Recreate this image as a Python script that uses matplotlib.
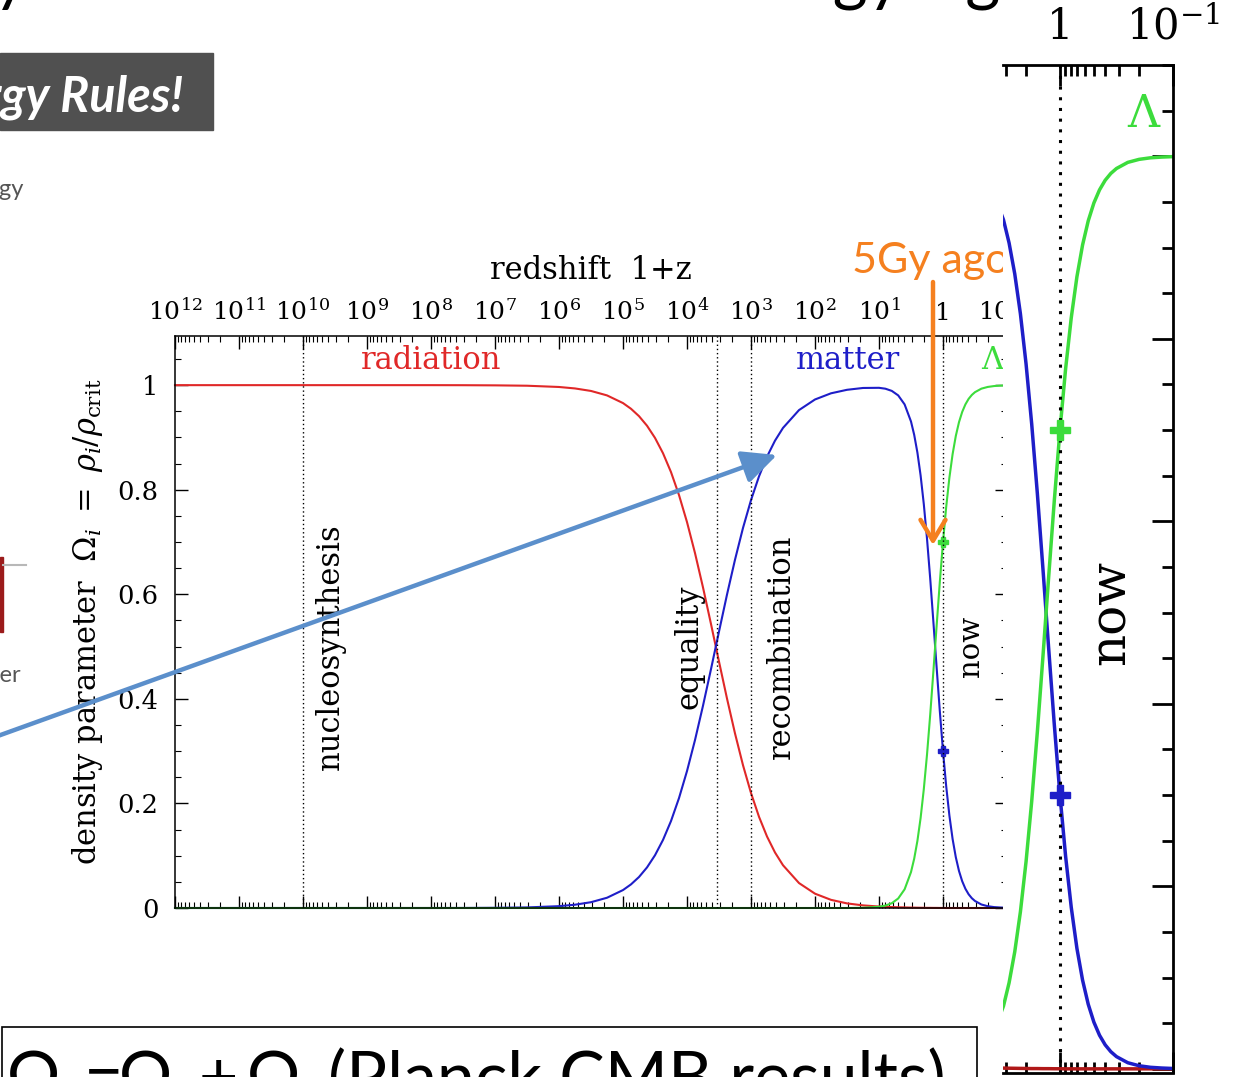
import numpy as np
import matplotlib
matplotlib.use('Agg')
import matplotlib.pyplot as plt
from matplotlib.patches import Rectangle
from matplotlib.lines import Line2D
from matplotlib.ticker import (FixedLocator, FixedFormatter, LogLocator,
                               MultipleLocator, FuncFormatter, NullFormatter)

plt.rcParams['font.family'] = ['DejaVu Serif']
plt.rcParams['mathtext.fontset'] = 'dejavuserif'

W, H = 1234, 1077

# log10(1+z), from the early universe down to the future
log_one_plus_z = [12, 9, 8, 7.5, 7, 6.5, 6, 5.75, 5.5, 5.25, 5, 4.875, 4.75, 4.625,
                  4.5, 4.375, 4.25, 4.125, 4, 3.875, 3.75, 3.625, 3.5, 3.375, 3.25,
                  3.125, 3, 2.875, 2.75, 2.625, 2.5, 2.25, 2, 1.75, 1.5, 1.25, 1.0,
                  0.9, 0.8, 0.7, 0.6, 0.5, 0.45, 0.4, 0.35, 0.3, 0.25, 0.2, 0.15,
                  0.1, 0.05, 0, -0.05, -0.1, -0.15, -0.2, -0.25, -0.3, -0.35, -0.4,
                  -0.45, -0.5, -0.6, -0.7, -0.8, -0.9, -1.0]

omega_radiation = [1.0, 1.0, 1.0, 0.9999, 0.9996, 0.9989, 0.9965, 0.9937, 0.9889,
                   0.9804, 0.9657, 0.9548, 0.9407, 0.9224, 0.8991, 0.8698, 0.8337,
                   0.7898, 0.7381, 0.6788, 0.6131, 0.5431, 0.4713, 0.4006, 0.3339,
                   0.2731, 0.2199, 0.1745, 0.1368, 0.1062, 0.0818, 0.0477, 0.0274,
                   0.0156, 0.0088, 0.0050, 0.0028, 0.0022, 0.0018, 0.0014, 0.0011,
                   0.0008, 0.0007, 0.0006, 0.0005, 0.0004, 0.0003, 0.0003, 0.0002,
                   0.0002, 0.0001, 0.0001, 0, 0, 0, 0, 0, 0, 0, 0, 0, 0, 0, 0, 0, 0, 0]

omega_matter = [0, 0, 0, 0.0001, 0.0004, 0.0011, 0.0035, 0.0063, 0.0111, 0.0196,
                0.0343, 0.0452, 0.0593, 0.0776, 0.1009, 0.1302, 0.1663, 0.2102,
                0.2619, 0.3212, 0.3869, 0.4569, 0.5287, 0.5994, 0.6661, 0.7269,
                0.7801, 0.8255, 0.8632, 0.8938, 0.9182, 0.9523, 0.9726, 0.9844,
                0.9911, 0.9946, 0.9949, 0.9932, 0.9890, 0.9804, 0.9632, 0.9305,
                0.9049, 0.8711, 0.8274, 0.7725, 0.7065, 0.6303, 0.5469, 0.4608,
                0.3770, 0.3000, 0.2328, 0.1768, 0.1320, 0.0972, 0.0708, 0.0512,
                0.0368, 0.0263, 0.0188, 0.0134, 0.0067, 0.0034, 0.0017, 0.0009,
                0.0004]

omega_lambda = [0, 0, 0, 0, 0, 0, 0, 0, 0, 0, 0, 0, 0, 0, 0, 0, 0, 0, 0, 0, 0, 0,
                0, 0, 0, 0, 0, 0, 0, 0, 0, 0, 0, 0, 0, 0.0004, 0.0023, 0.0046,
                0.0092, 0.0182, 0.0357, 0.0687, 0.0944, 0.1283, 0.1721, 0.2271,
                0.2932, 0.3694, 0.4529, 0.5390, 0.6229, 0.7000, 0.7672, 0.8232,
                0.8680, 0.9028, 0.9292, 0.9488, 0.9632, 0.9737, 0.9812, 0.9866,
                0.9933, 0.9966, 0.9983, 0.9991, 0.9996]

# present-day values (1+z = 1)
omega_matter_now = 0.3
omega_lambda_now = 0.7

event_one_plus_z = [1e10, 3400, 1000, 1]
event_names = ['nucleosynthesis', 'equality', 'recombination', 'now']

y_ticks = [0, 0.2, 0.4, 0.6, 0.8, 1.0]
y_tick_labels = ['0', '0.2', '0.4', '0.6', '0.8', '1']

# budget line in the box under the chart: (text, left x in px)
budget_parts = [('Ω', 5), ('=', 84), ('Ω', 117), ('+', 199), ('Ω', 245),
                ('(Planck CMB results)', 328)]
budget_subscripts = [('0', 50), ('m', 160), ('Λ', 288)]

RED = '#e02828'
BLUE = '#1e1ec8'
GREEN = '#3cdc3c'
ORANGE = '#f5801f'
ARROW_BLUE = '#5b8fcb'
SANS = ['Lato', 'DejaVu Sans']


def fx(px):
    return px / W


def fy(py):
    return 1 - py / H


def decade_label(value, pos):
    exponent = int(round(np.log10(value)))
    return '1' if exponent == 0 else rf'$10^{{{exponent}}}$'


z1 = 10.0 ** np.array(log_one_plus_z)

fig = plt.figure(figsize=(W / 100, H / 100), dpi=100)

# slide background bits
fig.text(fx(-190), fy(-2), 'History of the Universe: Dark Energy Age', family=SANS,
         fontsize=48.5, va='baseline', ha='left', color='black')
fig.patches.append(Rectangle((0, fy(130)), fx(213), (130 - 53) / H,
                             transform=fig.transFigure, color='#505050'))
fig.text(fx(183), fy(112), 'Dark Energy Rules!', family=SANS, weight='bold',
         style='italic', fontsize=35, color='white', ha='right', va='baseline')
fig.text(fx(24), fy(190), 'Energy', family=SANS, fontsize=17, color='#555555',
         ha='right', va='center')
fig.text(fx(22), fy(675), 'Matter', family=SANS, fontsize=17, color='#555555',
         ha='right', va='center')
fig.patches.append(Rectangle((0, fy(632)), fx(3), 75 / H,
                             transform=fig.transFigure, color='#9b1b1b'))
fig.lines.append(Line2D([fx(3), fx(26)], [fy(565), fy(565)],
                        transform=fig.transFigure, color='#b8b8b8', lw=1.5))
fig.patches.append(Rectangle((fx(2), fy(1100)), fx(975), (1100 - 1027) / H,
                             transform=fig.transFigure, facecolor='white',
                             edgecolor='black', lw=1.2))
for part, left in budget_parts:
    fig.text(fx(left), fy(1100), part, family=SANS, fontsize=49, va='baseline',
             ha='left')
for part, left in budget_subscripts:
    fig.text(fx(left), fy(1112), part, family=SANS, fontsize=32, va='baseline',
             ha='left')

# main chart
ax = fig.add_axes([fx(175), fy(908), (1007 - 175) / W, (908 - 336) / H])
ax.set_xscale('log')
ax.set_xlim(1e12, 0.1)
ax.set_ylim(0, 1.094)

ax.plot(z1, omega_radiation, color=RED, lw=1.5, clip_on=False)
ax.plot(z1, omega_matter, color=BLUE, lw=1.5, clip_on=False)
ax.plot(z1, omega_lambda, color=GREEN, lw=1.5, clip_on=False)
ax.plot([1], [omega_matter_now], marker='P', ms=7, color=BLUE)
ax.plot([1], [omega_lambda_now], marker='P', ms=7, color=GREEN)

offsets = [20, -20, 22, 20]
for z_event, name, dx in zip(event_one_plus_z, event_names, offsets):
    ax.axvline(z_event, color='black', ls=(0, (1, 2)), lw=1.0)
    size = 21 if name == 'now' else 22
    ax.annotate(name, xy=(z_event, 0.5), xytext=(dx, 0), textcoords='offset points',
                rotation=90, ha='center', va='center', fontsize=size)

ax.text(1e8, 1.048, 'radiation', color=RED, fontsize=22, ha='center', va='center')
ax.text(30, 1.048, 'matter', color=BLUE, fontsize=22, ha='center', va='center')
ax.text(10 ** -0.78, 1.048, r'$\Lambda$', color=GREEN, fontsize=22, ha='center',
        va='center')

ax.xaxis.set_major_locator(FixedLocator(10.0 ** np.arange(-1, 13)))
ax.xaxis.set_minor_locator(LogLocator(base=10, subs=np.arange(2, 10), numticks=200))
ax.xaxis.set_major_formatter(FuncFormatter(decade_label))
ax.xaxis.set_minor_formatter(NullFormatter())
ax.yaxis.set_major_locator(FixedLocator(y_ticks))
ax.yaxis.set_major_formatter(FixedFormatter(y_tick_labels))
ax.yaxis.set_minor_locator(MultipleLocator(0.05))
ax.tick_params(axis='x', which='both', direction='in', top=True, bottom=True,
               labeltop=True, labelbottom=False, labelsize=18, pad=8)
ax.tick_params(axis='y', which='both', direction='in', left=True, right=True,
               labelsize=18.5, pad=12)
ax.tick_params(which='major', length=9, width=1)
ax.tick_params(which='minor', length=4, width=0.8)
for spine in ax.spines.values():
    spine.set_linewidth(1.1)

ax.xaxis.set_label_position('top')
ax.set_xlabel('redshift  1+z', fontsize=22, labelpad=14)
ax.set_ylabel(r'density parameter  $\Omega_i\ =\ \rho_i/\rho_{\rm crit}$', fontsize=22,
              labelpad=9)

# annotations over the chart
ax.text(fx(852), fy(273), '5Gy ago', transform=fig.transFigure, family=SANS,
        fontsize=31, color=ORANGE, ha='left', va='baseline')
ax.annotate('', xy=(fx(933), fy(545)), xytext=(fx(933), fy(282)),
            xycoords='figure fraction', textcoords='figure fraction',
            arrowprops=dict(arrowstyle='->, head_length=0.75, head_width=0.45',
                            mutation_scale=20, color=ORANGE, lw=3.2,
                            shrinkA=0, shrinkB=0))
ax.annotate('', xy=(fx(777), fy(455)), xytext=(fx(-5), fy(737)),
            xycoords='figure fraction', textcoords='figure fraction',
            arrowprops=dict(arrowstyle='-|>, head_length=1.05, head_width=0.5',
                            mutation_scale=20, color=ARROW_BLUE, lw=3.2,
                            shrinkA=0, shrinkB=0))

# zoom around today
ins = fig.add_axes([fx(1003), fy(1072.5), (1173 - 1003) / W, (1072.5 - 65) / H])
ins.set_xscale('log')
ins.set_xlim(10 ** 0.504, 0.1)
ins.set_ylim(-0.004, 1.1)
ins.plot(z1, omega_radiation, color='#b01818', lw=2.5)
ins.plot(z1, omega_matter, color=BLUE, lw=2.5)
ins.plot(z1, omega_lambda, color=GREEN, lw=2.5)
ins.axvline(1, color='black', ls=(0, (1, 2.5)), lw=2.2)
ins.plot([1], [omega_matter_now], marker='P', ms=15, color=BLUE)
ins.plot([1], [omega_lambda_now], marker='P', ms=15, color=GREEN)
ins.annotate('now', xy=(1, 0.5), xytext=(37, 0), textcoords='offset points',
             rotation=90, ha='center', va='center', fontsize=36)
ins.text(10 ** -0.75, 1.046, r'$\Lambda$', color=GREEN, fontsize=32, ha='center',
         va='center')

ins.xaxis.set_major_locator(FixedLocator([10, 1, 0.1]))
ins.xaxis.set_minor_locator(LogLocator(base=10, subs=np.arange(2, 10), numticks=50))
ins.xaxis.set_major_formatter(FuncFormatter(decade_label))
ins.xaxis.set_minor_formatter(NullFormatter())
ins.yaxis.set_major_locator(MultipleLocator(0.2))
ins.yaxis.set_minor_locator(MultipleLocator(0.05))
ins.tick_params(axis='x', which='both', direction='in', top=True, bottom=True,
                labeltop=True, labelbottom=False, labelsize=30, pad=12)
ins.tick_params(axis='y', which='both', direction='in', left=False, right=True,
                labelleft=False)
ins.tick_params(which='major', length=15, width=2)
ins.tick_params(which='minor', length=8, width=2)
ins.spines['left'].set_visible(False)
for side in ['top', 'right', 'bottom']:
    ins.spines[side].set_linewidth(2)

fig.savefig('out.png', dpi=100)
